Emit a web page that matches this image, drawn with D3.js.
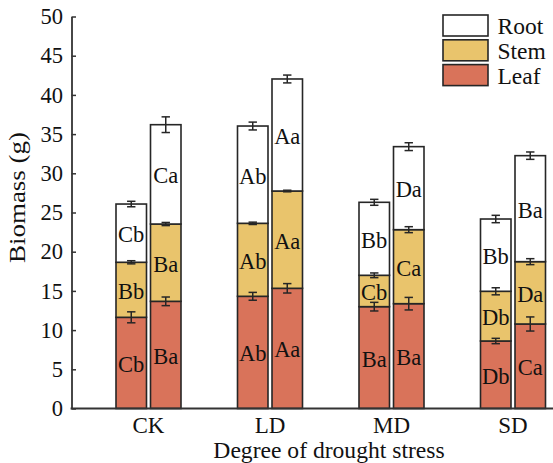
<!DOCTYPE html>
<html>
<head>
<meta charset="utf-8">
<script src="https://cdn.jsdelivr.net/npm/d3@7"></script>
<style>
  html, body { margin: 0; padding: 0; background: #fff; }
  svg { display: block; font-family: "Liberation Serif", "Times New Roman", serif; }
</style>
</head>
<body>
<svg id="chart" width="553" height="463"></svg>
<script>
// ---- data ----
const groups = ["CK", "LD", "MD", "SD"];
const bars = ["V1", "V2"];
const parts = ["Leaf", "Stem", "Root"];
// segment values (g), per group, per bar
const leafValues = [[11.63, 13.67], [14.31, 15.33], [12.99, 13.37], [8.61, 10.78]];
const stemValues = [[7.02, 9.86], [9.31, 12.41], [4.00, 9.44], [6.34, 7.95]];
const rootValues = [[7.43, 12.67], [12.41, 14.29], [9.31, 10.59], [9.22, 13.52]];
// error bars (SE) at the top of each cumulative segment
const leafErr = [[0.70, 0.55], [0.50, 0.60], [0.55, 0.80], [0.34, 0.90]];
const stemErr = [[0.20, 0.20], [0.15, 0.10], [0.30, 0.38], [0.45, 0.38]];
const rootErr = [[0.35, 1.00], [0.50, 0.50], [0.38, 0.50], [0.47, 0.47]];
// significance letters
const leafLetters = [["Cb", "Ba"], ["Ab", "Aa"], ["Ba", "Ba"], ["Db", "Ca"]];
const stemLetters = [["Bb", "Ba"], ["Ab", "Aa"], ["Cb", "Ca"], ["Db", "Da"]];
const rootLetters = [["Cb", "Ca"], ["Ab", "Aa"], ["Bb", "Da"], ["Bb", "Ba"]];
const yTicks = [0, 5, 10, 15, 20, 25, 30, 35, 40, 45, 50];
const legendItems = ["Root", "Stem", "Leaf"];

// ---- styles ----
const colors = { Leaf: "#D9735A", Stem: "#E9C46C", Root: "#FFFFFF" };
const stroke = "#262626";

const svg = d3.select("#chart");

const y = d3.scaleLinear().domain([0, 50]).range([408.5, 16.5]);
const x0 = d3.scaleBand().domain(groups).range([87.75, 573.75]);
const x1 = d3.scaleBand().domain(bars).range([-32.5, 32.5]).paddingInner(0.116);

const valueTable = { Leaf: leafValues, Stem: stemValues, Root: rootValues };
const errTable = { Leaf: leafErr, Stem: stemErr, Root: rootErr };
const letterTable = { Leaf: leafLetters, Stem: stemLetters, Root: rootLetters };

// Build records
const records = [];
groups.forEach((g, gi) => {
  bars.forEach((b, bi) => {
    let cum = 0;
    parts.forEach(p => {
      const v = valueTable[p][gi][bi];
      records.push({
        group: g, bar: b, part: p,
        y0: cum, y1: cum + v,
        err: errTable[p][gi][bi],
        letter: letterTable[p][gi][bi]
      });
      cum += v;
    });
  });
});

const bx = d => x0(d.group) + x0.bandwidth() / 2 + x1(d.bar);
const bw = x1.bandwidth();

// bars
svg.append("g").selectAll("rect").data(records).join("rect")
  .attr("x", d => bx(d))
  .attr("y", d => y(d.y1))
  .attr("width", bw)
  .attr("height", d => y(d.y0) - y(d.y1))
  .attr("fill", d => colors[d.part])
  .attr("stroke", stroke)
  .attr("stroke-width", 1.6);

// error bars
const eb = svg.append("g").attr("stroke", stroke).attr("stroke-width", 1.5);
records.forEach(d => {
  const cx = bx(d) + bw / 2;
  eb.append("line").attr("x1", cx).attr("x2", cx)
    .attr("y1", y(d.y1 + d.err)).attr("y2", y(d.y1 - d.err));
  [d.y1 + d.err, d.y1 - d.err].forEach(v => {
    eb.append("line").attr("x1", cx - 4.2).attr("x2", cx + 4.2)
      .attr("y1", y(v)).attr("y2", y(v));
  });
});

// letters
svg.append("g").selectAll("text").data(records).join("text")
  .attr("x", d => bx(d) + bw / 2)
  .attr("y", d => (y(d.y0) + y(d.y1)) / 2)
  .attr("dy", "0.4em")
  .attr("text-anchor", "middle")
  .attr("font-size", 22.5)
  .attr("fill", "#111")
  .text(d => d.letter);

// y axis
const yAxis = d3.axisLeft(y).tickValues(yTicks).tickSizeInner(-4.5).tickSizeOuter(0).tickPadding(8.5);
const yg = svg.append("g").attr("transform", "translate(71.5,0)").call(yAxis);
yg.select(".domain").attr("stroke", "#333").attr("stroke-width", 1.8);
yg.selectAll(".tick line").attr("stroke", "#333").attr("stroke-width", 1.5);
yg.selectAll(".tick text").attr("font-size", 22.5).attr("fill", "#111")
  .attr("font-family", "Liberation Serif, serif");

// x axis
const xAxis = d3.axisBottom(x0).tickSize(0).tickPadding(8);
const xg = svg.append("g").attr("transform", "translate(0,408.5)").call(xAxis);
xg.select(".domain").remove();
xg.selectAll(".tick text").attr("font-size", 23).attr("fill", "#111")
  .attr("font-family", "Liberation Serif, serif");
svg.append("line").attr("x1", 70.6).attr("x2", 553).attr("y1", 408.5).attr("y2", 408.5)
  .attr("stroke", "#333").attr("stroke-width", 1.8);

// axis titles
svg.append("text").attr("x", 329).attr("y", 458)
  .attr("text-anchor", "middle").attr("font-size", 23.6).attr("fill", "#111")
  .text("Degree of drought stress");
svg.append("text")
  .attr("transform", "translate(25,197.5) rotate(-90)")
  .attr("text-anchor", "middle").attr("font-size", 24).attr("fill", "#111")
  .attr("textLength", 131).attr("lengthAdjust", "spacingAndGlyphs")
  .text("Biomass (g)");

// legend
const lg = svg.append("g").attr("transform", "translate(443,15)");
legendItems.forEach((p, i) => {
  const row = lg.append("g").attr("transform", `translate(0,${i * 24.8})`);
  row.append("rect").attr("x", 0).attr("y", 0).attr("width", 45).attr("height", 21)
    .attr("fill", colors[p]).attr("stroke", stroke).attr("stroke-width", 1.6);
  row.append("text").attr("x", 54.5).attr("y", 10.5).attr("dy", "0.36em")
    .attr("font-size", 23.5).attr("fill", "#111").text(p);
});
</script>
</body>
</html>
